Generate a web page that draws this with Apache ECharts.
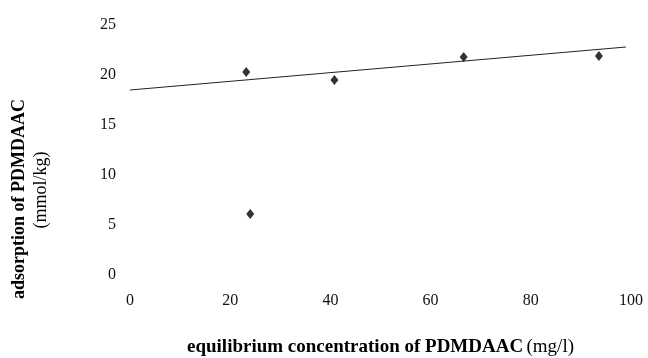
<!DOCTYPE html>
<html>
<head>
<meta charset="utf-8">
<script src="https://cdn.jsdelivr.net/npm/echarts@6/dist/echarts.min.js"></script>
<style>html,body{margin:0;padding:0;background:#fff}#c{width:648px;height:358px}</style>
</head>
<body>
<div id="c"></div>
<script>
const pointsX = [23.2, 24.0, 40.8, 66.6, 93.6];
const pointsY = [20.3, 6.1, 19.5, 21.8, 21.9];
const trendX = [0, 99];
const trendY = [18.5, 22.8];
const xTicks = [0, 20, 40, 60, 80, 100];
const yTicks = [0, 5, 10, 15, 20, 25];
const xTitleBold = 'equilibrium concentration of PDMDAAC';
const xTitleUnit = '(mg/l)';
const yTitleBold = 'adsorption of PDMDAAC';
const yTitleUnit = '(mmol/kg)';

const font = 'Liberation Serif';
const chart = echarts.init(document.getElementById('c'));
chart.setOption({
  animation: false,
  backgroundColor: '#fff',
  grid: {left: 130, right: 17, top: 25, bottom: 83, outerBoundsMode: 'none', containLabel: false},
  xAxis: {
    type: 'value', min: xTicks[0], max: xTicks[xTicks.length-1], interval: 20,
    axisLine: {show: false}, axisTick: {show: false}, splitLine: {show: false},
    axisLabel: {fontFamily: font, fontSize: 16, color: '#111', margin: 18},
    name: '{b|' + xTitleBold + '} {n|' + xTitleUnit + '}',
    nameLocation: 'middle', nameGap: 63,
    nameTextStyle: {rich: {
      b: {fontFamily: font, fontSize: 19, fontWeight: 'bold', color: '#000'},
      n: {fontFamily: font, fontSize: 19, color: '#000'}
    }}
  },
  yAxis: {
    type: 'value', min: yTicks[0], max: yTicks[yTicks.length-1], interval: 5,
    axisLine: {show: false}, axisTick: {show: false}, splitLine: {show: false},
    axisLabel: {fontFamily: font, fontSize: 16, color: '#111', margin: 14}
  },
  graphic: [
    {type: 'text', x: 19, y: 199, rotation: Math.PI/2,
     style: {text: yTitleBold, font: 'bold 18px "Liberation Serif"', fill: '#000', align: 'center', verticalAlign: 'middle'}},
    {type: 'text', x: 41, y: 190, rotation: Math.PI/2,
     style: {text: yTitleUnit, font: '18px "Liberation Serif"', fill: '#000', align: 'center', verticalAlign: 'middle'}}
  ],
  series: [
    {type: 'line', data: trendX.map((x,i)=>[x, trendY[i]]), symbol: 'none',
     lineStyle: {color: '#222', width: 1}, z: 1},
    {type: 'scatter', data: pointsX.map((x,i)=>[x, pointsY[i]]), symbol: 'diamond',
     symbolSize: [8, 10], itemStyle: {color: '#000'}, z: 2}
  ]
});
</script>
</body>
</html>
